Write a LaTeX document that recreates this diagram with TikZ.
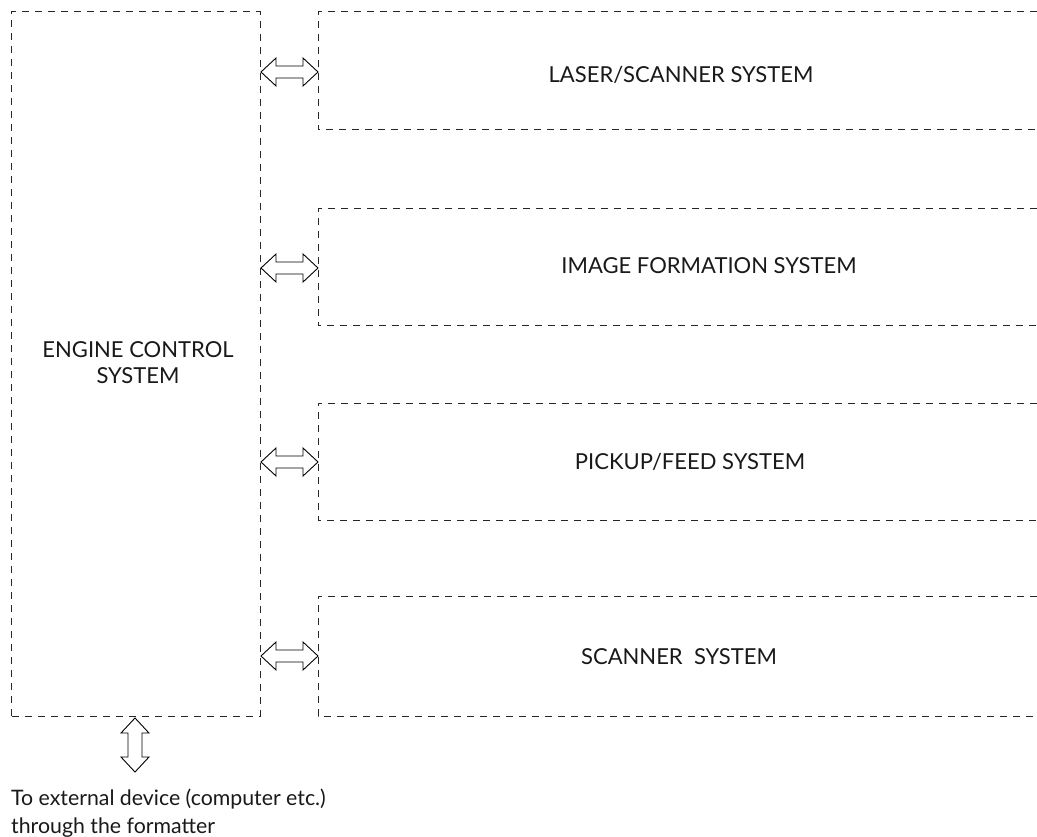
\documentclass[tikz,border=0pt]{standalone}
\usepackage{fontspec}
\setmainfont{Lato}
\begin{document}
\begin{tikzpicture}[x=1pt,y=-1pt,
  box/.style={draw=none,inner sep=0pt,outer sep=0pt},
  frame/.style={draw=black!85,line width=1pt,dash pattern=on 7pt off 6pt},
  arr/.style={draw=black,line width=0.9pt,fill=white,line join=miter},
  lbl/.style={inner sep=0pt,anchor=base,font=\fontsize{22}{26}\selectfont,text=black!90}]
\useasboundingbox (0,0) rectangle (1037,837);
% left box
\node[box,minimum width=249pt,minimum height=704pt] (ecs) at (135.5,364) {};
\draw[frame] (ecs.south west) rectangle (ecs.north east);
\node[lbl,align=center] (ecst) at (138,383) {ENGINE CONTROL\\SYSTEM};
% right boxes (open on the right)
\foreach \n/\t/\b in {ls/12/130, ifs/209/326, pfs/403/520, ss/596/716}{
  \coordinate (\n nw) at (318,\t);
  \coordinate (\n sw) at (318,\b);
  \coordinate (\n ne) at (1037,\t);
  \coordinate (\n se) at (1037,\b);
  \draw[frame] (\n ne) -- (\n nw) -- (\n sw) -- (\n se);
}
\node[lbl] (lst) at (681,83) {LASER/SCANNER SYSTEM};
\node[lbl] (ifst) at (709,274) {IMAGE FORMATION SYSTEM};
\node[lbl] (pfst) at (690,469) {PICKUP/FEED SYSTEM};
\node[lbl] (sst) at (679,664) {SCANNER\ \ SYSTEM};
% horizontal double arrows
\foreach \c in {72,268,462,656}{
  \draw[arr] (261,\c) -- (276,\c-14) -- (276,\c-6) -- (303,\c-6) -- (303,\c-14) -- (318,\c)
    -- (303,\c+14) -- (303,\c+6) -- (276,\c+6) -- (276,\c+14) -- cycle;
}
% vertical double arrow
\draw[arr] (135,718) -- (121,733) -- (128,733) -- (128,757) -- (121,757) -- (135,772)
  -- (149,757) -- (142,757) -- (142,733) -- (149,733) -- cycle;
\node[inner sep=0pt,anchor=base west,align=left,font=\fontsize{21.3}{28}\selectfont,text=black!90] (ext) at (11,833) {To external device (computer etc.)\\through the formatter};
\end{tikzpicture}
\end{document}
